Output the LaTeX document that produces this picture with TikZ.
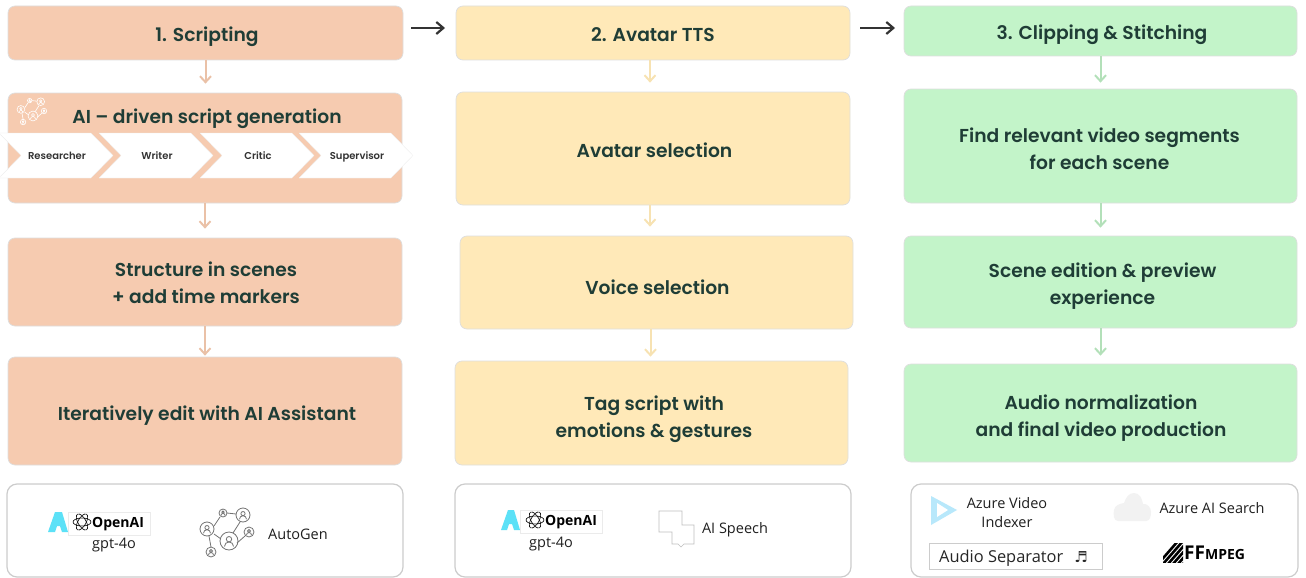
\documentclass[tikz,border=0pt]{standalone}
\usepackage{fontspec}
\setmainfont{Open Sans}
\newfontfamily\popfont{Poppins}[BoldFont={Poppins SemiBold}]
\newfontfamily\symfont{DejaVu Sans}
\usetikzlibrary{arrows.meta}
\definecolor{peach}{HTML}{F6CBB0}
\definecolor{cream}{HTML}{FFE9B8}
\definecolor{mint}{HTML}{C3F4C9}
\definecolor{inkgreen}{HTML}{1F3D36}
\definecolor{azurecyan}{HTML}{5CE1F7}
\tikzset{
  card/.style={draw=black!13,line width=0.7pt,rounded corners=7pt,inner sep=0pt},
  cardtext/.style={align=center,text=inkgreen,font=\popfont\bfseries\fontsize{18.7}{27}\selectfont},
  toolbox/.style={draw=black!20,line width=1.2pt,rounded corners=10pt,fill=white},
  flow/.style={line width=2pt,-{Straight Barb[length=6pt,width=11pt]},shorten >=9pt},
  stepnext/.style={draw=black!80,line width=2.2pt,-{Straight Barb[length=7pt,width=12pt]}},
  chevron/.style={fill=white,draw=black!8,line width=0.3pt},
  chevtext/.style={text=black!80,anchor=base,font=\popfont\bfseries\fontsize{10}{11}\selectfont},
  tooltext/.style={text=black!88,align=center,font=\fontsize{14.5}{19}\selectfont},
  netpic/.pic={
    \foreach \a/\b/\r in {0/0/9,-22/-12/7,14/-26/7,-6/-28/4,20/-9/5,-18/11/5}{
      \draw[pic actions] (\a,\b) circle (\r);
      \draw[pic actions] (\a,\b-0.2*\r) circle (0.3*\r);
      \draw[pic actions] (\a-0.5*\r,\b+0.6*\r) arc (180:360:0.5*\r);
    }
    \draw[pic actions] (-15,-15) -- (-9,-24) (-2,-28) -- (7,-27) (4,-8) -- (11,-19) (-15,-7) -- (-8,-2) (-20,-5) -- (-18,6) (8,2) -- (16,-5);
  },
  knotpic/.pic={
    \foreach \t in {0,60,120}{
      \draw[pic actions,rotate=\t] (0,0) ellipse (9 and 4);
    }
  }
}
\begin{document}
\begin{tikzpicture}[x=1pt,y=-1pt]
\useasboundingbox (0,0) rectangle (1306,578);
% scripting column
\node[card,fill=peach,minimum width=395pt,minimum height=54pt] (s1title) at (205.5,33) {};
\node[card,fill=peach,minimum width=394pt,minimum height=110pt] (s1ai) at (205,148) {};
\node[card,fill=peach,minimum width=394pt,minimum height=88pt] (s1scene) at (205,282) {};
\node[card,fill=peach,minimum width=394pt,minimum height=108pt] (s1edit) at (205,411) {};
\node[cardtext] (s1titletext) at (207,37) {1. Scripting};
\node[cardtext] (s1aitext) at (207,119) {AI – driven script generation};
\node[cardtext] (s1scenetext) at (206,283) {Structure in scenes\\+ add time markers};
\node[cardtext] (s1edittext) at (207,416) {Iteratively edit with AI Assistant};
\pic[draw=white,line width=0.6pt,scale=0.55] at (33,116) {netpic};
% chevrons
\foreach \x/\nm/\lbl in {-1/chevres/Researcher,99/chevwri/Writer,200/chevcri/Critic,299/chevsup/Supervisor}{
  \draw[chevron] (\x,133) -- ++(92,0) -- ++(22,22.5) -- ++(-22,22.5) -- ++(-92,0) -- ++(22,-22.5) -- cycle;
  \node[chevtext] (\nm) at (\x+58,159.5) {\lbl};
}
% avatar column
\node[card,fill=cream,minimum width=394pt,minimum height=54pt] (s2title) at (653,33) {};
\node[card,fill=cream,minimum width=394pt,minimum height=113pt] (s2avatar) at (653,148.5) {};
\node[card,fill=cream,minimum width=393pt,minimum height=93pt] (s2voice) at (656.5,282.5) {};
\node[card,fill=cream,minimum width=393pt,minimum height=104pt] (s2tag) at (651.5,413) {};
\node[cardtext] (s2titletext) at (653,35) {2. Avatar TTS};
\node[cardtext] (s2avatartext) at (654.5,150.5) {Avatar selection};
\node[cardtext] (s2voicetext) at (657.5,287.5) {Voice selection};
\node[cardtext] (s2tagtext) at (654,419) {Tag script with\\emotions \& gestures};
% clipping column
\node[card,fill=mint,minimum width=393pt,minimum height=50pt] (s3title) at (1100.5,31) {};
\node[card,fill=mint,minimum width=393pt,minimum height=114pt] (s3find) at (1100.5,146) {};
\node[card,fill=mint,minimum width=393pt,minimum height=92pt] (s3edit) at (1100.5,282) {};
\node[card,fill=mint,minimum width=393pt,minimum height=98pt] (s3audio) at (1100.5,413) {};
\node[cardtext] (s3titletext) at (1102,35) {3. Clipping \& Stitching};
\node[cardtext] (s3findtext) at (1099.5,149) {Find relevant video segments\\for each scene};
\node[cardtext] (s3edittext) at (1102.5,286) {Scene edition \& preview\\experience};
\node[cardtext] (s3audiotext) at (1101,418) {Audio normalization\\and final video production};
% arrows
\coordinate (next1a) at (411,28);
\coordinate (next1b) at (445,28);
\coordinate (next2a) at (860,28);
\coordinate (next2b) at (895,28);
\draw[stepnext] (next1a) -- (next1b);
\draw[stepnext] (next2a) -- (next2b);
\draw[flow,draw=peach!95!black] (s1title.south) -- (s1title.south |- s1ai.north);
\draw[flow,draw=peach!95!black] (s1ai.south) -- (s1ai.south |- s1scene.north);
\draw[flow,draw=peach!95!black] (s1scene.south) -- ([yshift=-8pt]s1scene.south |- s1edit.north);
\draw[flow,draw=cream!97!black] ([xshift=-3pt]s2title.south) -- ([xshift=-3pt]s2title.south |- s2avatar.north);
\draw[flow,draw=cream!97!black] ([xshift=-3pt]s2avatar.south) -- ([xshift=-3pt]s2avatar.south |- s2voice.north);
\draw[flow,draw=cream!97!black] ([xshift=-6pt]s2voice.south) -- ([xshift=-6pt,yshift=-5pt]s2voice.south |- s2tag.north);
\draw[flow,draw=mint!92!black] (s3title.south) -- ([yshift=-3pt]s3title.south |- s3find.north);
\draw[flow,draw=mint!92!black] (s3find.south) -- ([yshift=-1pt]s3find.south |- s3edit.north);
\draw[flow,draw=mint!92!black] (s3edit.south) -- ([yshift=-1pt]s3edit.south |- s3audio.north);
% tool boxes
\node[toolbox,minimum width=396pt,minimum height=93pt] (tools1) at (205,530.5) {};
\node[toolbox,minimum width=396pt,minimum height=93pt] (tools2) at (653,530.5) {};
\node[toolbox,minimum width=387pt,minimum height=93pt] (tools3) at (1104.5,530.5) {};
% tools of column one
\fill[azurecyan] (48,532) -- (55,512) -- (62,512) -- (68,532) -- (62,532) -- (60,526) -- (57,526) -- (55,532) -- cycle;
\node[draw=black!8,line width=0.4pt,fill=white,minimum width=82pt,minimum height=23pt] (openai1) at (109,523.5) {};
\node[anchor=west,text=black,font=\fontsize{14}{16}\selectfont\bfseries,inner sep=0pt] (openai1text) at (92,524) {OpenAI};
\pic[draw=black,line width=0.6pt] at (82,522) {knotpic};
\node[tooltext] (gpt1) at (114,545) {gpt-4o};
\pic[draw=black!55,line width=0.8pt] at (229,541) {netpic};
\node[tooltext] (autogen) at (298,534) {AutoGen};
% tools of column two
\fill[azurecyan] (501,530) -- (508,510) -- (514,510) -- (520,530) -- (514,530) -- (512,524) -- (509,524) -- (507,530) -- cycle;
\node[draw=black!8,line width=0.4pt,fill=white,minimum width=82pt,minimum height=23pt] (openai2) at (561.5,521.5) {};
\node[anchor=west,text=black,font=\fontsize{14}{16}\selectfont\bfseries,inner sep=0pt] (openai2text) at (545,522) {OpenAI};
\pic[draw=black,line width=0.6pt] at (535,520) {knotpic};
\node[tooltext] (gpt2) at (551,544) {gpt-4o};
\draw[draw=black!25,line width=0.6pt] (672,532) -- (659,532) -- (659,511) -- (682,511) -- (682,525) -- (694,525) -- (694,544) -- (684,544) -- (681,547) -- (678,544) -- (672,544) -- cycle;
\node[tooltext] (speech) at (735,530) {AI Speech};
% tools of column three
\fill[cyan!28!white] (931,496) -- (957,510) -- (931,525) -- cycle;
\fill[white] (937,503) -- (948,510) -- (937,517) -- cycle;
\node[tooltext] (indexer) at (1007,512.5) {Azure Video\\Indexer};
\fill[black!5] (1118,521) to[out=180,in=260] (1114,510) to[out=80,in=190] (1124,503) to[out=70,in=180] (1134,493) to[out=0,in=100] (1143,504) to[out=10,in=90] (1151,512) to[out=270,in=0] (1146,521) -- cycle;
\node[tooltext] (search) at (1212,508) {Azure AI Search};
\node[draw=black!20,line width=0.6pt,fill=white,minimum width=173pt,minimum height=26pt] (separator) at (1015.5,556) {};
\node[tooltext,font=\fontsize{16.4}{19}\selectfont,text=black!85,anchor=west,inner sep=0pt] (septext) at (939,558) {Audio Separator};
\node[text=black!85,font=\symfont\fontsize{15}{16}\selectfont,inner sep=0pt] (sepnote) at (1081,557) {♬};
\begin{scope}
\clip (1163,543) rectangle (1183,562);
\foreach \k in {0,5,10,15,20,25,30,35}{
  \draw[black,line width=2.6pt] (1158+\k,564) -- (1178+\k,541);
}
\end{scope}
\node[anchor=west,inner sep=0pt,text=black,font=\bfseries\fontsize{19}{20}\selectfont] (ffmpeg) at (1184,553) {FF\fontsize{14}{14}\selectfont MPEG};
\end{tikzpicture}
\end{document}
